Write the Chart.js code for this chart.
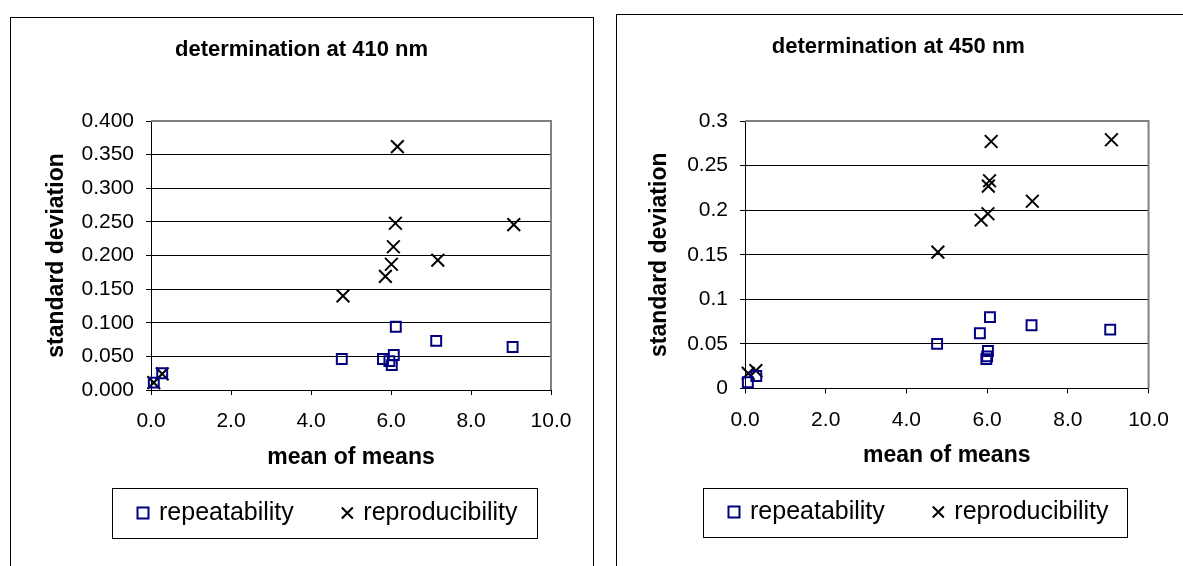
<!DOCTYPE html>
<html>
<head>
<meta charset="utf-8">
<title>determination at 410 / 450 nm</title>
<script src="https://cdn.jsdelivr.net/npm/chart.js@4.4.1/dist/chart.umd.min.js"></script>
<style>
  body { margin: 0; background: #fff; width: 1183px; height: 566px; overflow: hidden; position: relative; }
  .card { position: absolute; border: 1px solid #000; background: #fff; }
  #card410 { left: 10px; top: 17px; width: 582px; height: 600px; }
  #card450 { left: 616px; top: 14px; width: 600px; height: 600px; }
  canvas { position: absolute; top: 0; }
  #chart410 { left: 0; }
  #chart450 { left: 600px; }
</style>
</head>
<body>
<div class="card" id="card410"></div>
<div class="card" id="card450"></div>
<canvas id="chart410" width="600" height="566"></canvas>
<canvas id="chart450" width="583" height="566"></canvas>
<script>
// axis ticks
const xTicks = [0, 2, 4, 6, 8, 10];
const yTicks410 = [0, 0.05, 0.1, 0.15, 0.2, 0.25, 0.3, 0.35, 0.4];
const yTicks450 = [0, 0.05, 0.1, 0.15, 0.2, 0.25, 0.3];

// 410 nm
const rep410X = [0.07, 0.28, 4.77, 5.80, 5.96, 6.02, 6.07, 6.12, 7.13, 9.04];
const rep410Y = [0.011, 0.025, 0.046, 0.046, 0.043, 0.037, 0.052, 0.094, 0.073, 0.064];
const repro410X = [0.07, 0.28, 4.80, 5.86, 6.01, 6.06, 6.11, 6.16, 7.17, 9.07];
const repro410Y = [0.011, 0.024, 0.140, 0.169, 0.187, 0.213, 0.248, 0.362, 0.193, 0.246];

// 450 nm
const rep450X = [0.07, 0.28, 4.76, 5.82, 5.98, 6.00, 6.02, 6.07, 7.10, 9.05];
const rep450Y = [0.007, 0.014, 0.050, 0.062, 0.033, 0.036, 0.042, 0.080, 0.071, 0.066];
const repro450X = [0.08, 0.27, 4.78, 5.85, 6.02, 6.03, 6.06, 6.10, 7.12, 9.08];
const repro450Y = [0.017, 0.020, 0.153, 0.189, 0.196, 0.227, 0.233, 0.277, 0.210, 0.279];

Chart.defaults.font.family = "'Liberation Sans', Arial, sans-serif";
Chart.defaults.color = "#000";

function points(xs, ys) {
    return xs.map((x, i) => ({ x: x, y: ys[i] }));
}

// moves title / legend into place, draws plot frame and legend box
const excelLook = {
    id: "excelLook",
    beforeDraw(chart, args, opts) {
        const legend = chart.legend;
        const pad = opts.legendPad;
        legend.left = opts.legendX - pad;
        legend.right = legend.left + 2000;
        legend.top = opts.legendY - pad - opts.legendFont / 2;
        chart.titleBlock.left = opts.titleLeft;
        chart.titleBlock.right = opts.titleRight;
    },
    beforeDatasetsDraw(chart) {
        const a = chart.chartArea;
        const ctx = chart.ctx;
        ctx.save();
        ctx.strokeStyle = "#808080";
        ctx.lineWidth = 2;
        ctx.beginPath();
        ctx.moveTo(a.left, a.top);
        ctx.lineTo(a.right, a.top);
        ctx.lineTo(a.right, a.bottom);
        ctx.stroke();
        ctx.restore();
    },
    afterDraw(chart, args, opts) {
        const f = opts.frame;
        const ctx = chart.ctx;
        ctx.save();
        ctx.strokeStyle = "#000";
        ctx.lineWidth = 1;
        ctx.strokeRect(f[0], f[1], f[2], f[3]);
        ctx.restore();
    }
};

function makeChart(id, title, rep, repro, yTicks, yFmt, look) {
    const yMax = yTicks[yTicks.length - 1];
    return new Chart(document.getElementById(id), {
        type: "scatter",
        data: {
            datasets: [{
                label: "repeatability",
                data: rep,
                pointStyle: "rect",
                pointRadius: 7,
                borderColor: "#000080",
                backgroundColor: "rgba(0,0,0,0)",
                borderWidth: 2,
                clip: false
            }, {
                label: "reproducibility",
                data: repro,
                pointStyle: "crossRot",
                pointRadius: 9,
                borderColor: "#000",
                backgroundColor: "rgba(0,0,0,0)",
                borderWidth: 2,
                clip: false
            }]
        },
        options: {
            responsive: false,
            animation: false,
            events: [],
            layout: { padding: { left: 0, right: look.padRight, top: 0, bottom: 0 } },
            scales: {
                x: {
                    type: "linear",
                    min: 0,
                    max: 10,
                    afterBuildTicks: s => { s.ticks = xTicks.map(v => ({ value: v })); },
                    afterFit: s => { s.height = look.xAxisHeight; },
                    ticks: { font: { size: 21 }, padding: 14, autoSkip: false, maxRotation: 0,
                             callback: v => v.toFixed(1) },
                    grid: { drawOnChartArea: false, tickLength: 5, color: "#000" },
                    border: { color: "#000", width: 1 },
                    title: { display: true, text: "mean of means",
                             font: { size: 23, weight: "bold" },
                             padding: { top: 0, bottom: look.xTitlePad } }
                },
                y: {
                    type: "linear",
                    min: 0,
                    max: yMax,
                    afterBuildTicks: s => { s.ticks = yTicks.map(v => ({ value: v })); },
                    afterFit: s => { s.width = look.yAxisWidth; },
                    ticks: { font: { size: 21 }, padding: 12, autoSkip: false, callback: yFmt },
                    grid: {
                        tickLength: 5,
                        tickColor: "#000",
                        lineWidth: 1,
                        color: c => (c.tick && (c.tick.value === 0 || c.tick.value === yMax)) ? "rgba(0,0,0,0)" : "#000"
                    },
                    border: { color: "#000", width: 1 },
                    title: { display: true, text: "standard deviation",
                             font: { size: 23, weight: "bold" },
                             padding: { top: look.yTitlePad, bottom: 0 } }
                }
            },
            plugins: {
                title: {
                    display: true,
                    text: title,
                    color: "#000",
                    font: { size: 22, weight: "bold" },
                    padding: { top: look.titleTop, bottom: look.titleBottom }
                },
                legend: {
                    position: "bottom",
                    align: "start",
                    labels: { usePointStyle: true, boxWidth: 7, boxHeight: 11, padding: 50,
                              font: { size: 25 }, color: "#000" }
                },
                tooltip: { enabled: false },
                excelLook: {
                    legendPad: 50,
                    legendFont: 25,
                    legendX: look.legendX,
                    legendY: look.legendY,
                    titleLeft: look.titleLeft,
                    titleRight: look.titleRight,
                    frame: look.frame
                }
            }
        },
        plugins: [excelLook]
    });
}

makeChart("chart410", "determination at 410 nm",
    points(rep410X, rep410Y), points(repro410X, repro410Y),
    yTicks410, v => v.toFixed(3),
    { padRight: 49, xAxisHeight: 91, xTitlePad: 9.2, yAxisWidth: 151, yTitlePad: 43.2,
      titleTop: 36.8, titleBottom: 57.8, legendX: 139.5, legendY: 513,
      titleLeft: 10, titleRight: 593, frame: [112.5, 488.5, 425, 50] });

makeChart("chart450", "determination at 450 nm",
    points(rep450X, rep450Y), points(repro450X, repro450Y),
    yTicks450, v => String(+v.toFixed(2)),
    { padRight: 27.3, xAxisHeight: 92.5, xTitlePad: 11.2, yAxisWidth: 145, yTitlePad: 46.2,
      titleTop: 33.8, titleBottom: 60.8, legendX: 130.5, legendY: 512,
      titleLeft: 16.7, titleRight: 580, frame: [103.5, 488.5, 424, 49] });
</script>
</body>
</html>
